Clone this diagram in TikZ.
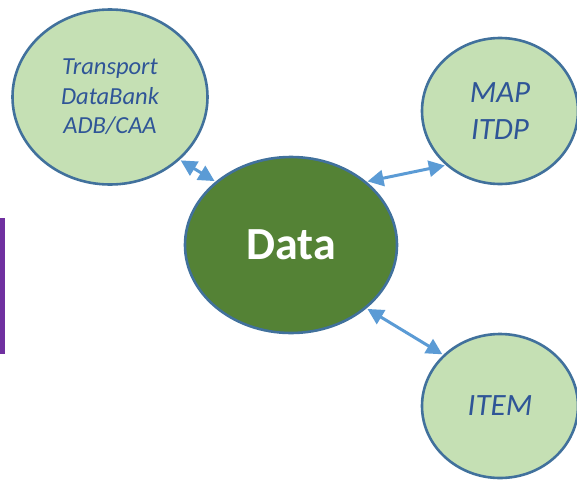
\documentclass[tikz,border=0pt]{standalone}
\usepackage{fontspec}
\setmainfont{Carlito}
\usepackage{tikz}
\usetikzlibrary{shapes.geometric,arrows.meta}

\definecolor{lightgreen}{RGB}{197,224,180}
\definecolor{darkgreen}{RGB}{84,130,53}
\definecolor{rimblue}{RGB}{65,113,156}
\definecolor{arrowblue}{RGB}{91,155,213}
\definecolor{textblue}{RGB}{47,85,151}
\definecolor{barpurple}{RGB}{112,48,160}

\begin{document}
\begin{tikzpicture}
[x=1pt,y=-1pt]
\tikzset{
	source/.style = {ellipse, draw=rimblue, line width=2.6pt, fill=lightgreen, inner sep=0, text=textblue, align=center},
	hub/.style = {ellipse, draw=rimblue, line width=2.6pt, fill=darkgreen, inner sep=0, text=white,
		font=\fontsize{46}{54}\selectfont\bfseries},
	link/.style = {arrowblue, line width=3pt, {Triangle[length=16pt,width=16pt]}-{Triangle[length=16pt,width=16pt]}, shorten <=1pt, shorten >=1pt}
}
\useasboundingbox (0,0) rectangle (577,479);

\fill [barpurple] (0,218) rectangle (5,354);

\node (data) [hub, minimum width=212pt, minimum height=176pt] at (291,245) {Data};
\node (tdb) [source, minimum width=195pt, minimum height=175pt, font=\fontsize{24.5}{29.5}\selectfont\itshape] at (110,97) {Transport\\DataBank\\ADB/CAA};
\node (map) [source, minimum width=156pt, minimum height=146pt, font=\fontsize{31}{37}\selectfont\itshape] at (500,111) {MAP\\ITDP};
\node (item) [source, minimum width=156pt, minimum height=144pt, font=\fontsize{31}{37}\selectfont\itshape] at (500,406) {ITEM};

\draw [link] (tdb.-42) to (data.140);
\draw [link] (data.40) to (map.225);
\draw [link] (data.-40) to (item.138);
\end{tikzpicture}
\end{document}
